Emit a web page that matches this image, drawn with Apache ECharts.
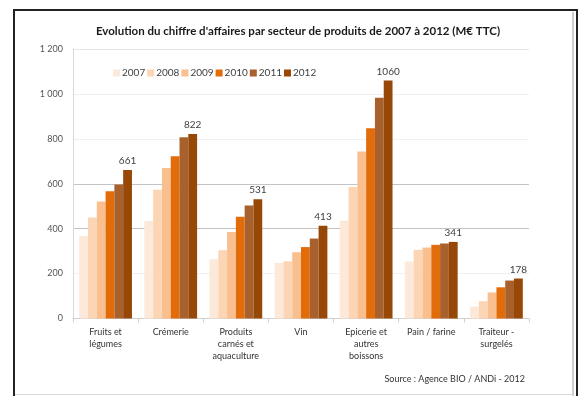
<!DOCTYPE html>
<html>
<head>
<meta charset="utf-8">
<script src="https://cdn.jsdelivr.net/npm/echarts@6/dist/echarts.min.js"></script>
<style>
  html, body { margin: 0; padding: 0; background: #fff; }
  #chart { width: 585px; height: 396px; }
</style>
</head>
<body>
<div id="chart"></div>
<script>
// Turnover by product sector, 2007-2012 (M€ TTC)
const categories = [
  'Fruits et\nlégumes',
  'Crémerie',
  'Produits\ncarnés et\naquaculture',
  'Vin',
  'Epicerie et\nautres\nboissons',
  'Pain / farine',
  'Traiteur -\nsurgelés'
];
const years = ['2007', '2008', '2009', '2010', '2011', '2012'];
const v2007 = [367, 434, 264, 248, 435, 254, 53];
const v2008 = [450, 573, 304, 255, 585, 306, 77];
const v2009 = [521, 670, 385, 295, 744, 316, 116];
const v2010 = [567, 722, 453, 318, 847, 328, 139];
const v2011 = [597, 807, 503, 356, 983, 334, 169];
const v2012 = [661, 822, 531, 413, 1060, 341, 178];
const yTicks = [0, 200, 400, 600, 800, 1000, 1200];

const seriesValues = [v2007, v2008, v2009, v2010, v2011, v2012];
const palette = ['#fde9d9', '#fcd5b4', '#fabf8f', '#e26b0a', '#a8602c', '#974706'];
const fontFamily = 'Lato, "Open Sans", sans-serif';

const chart = echarts.init(document.getElementById('chart'), null, { renderer: 'canvas' });

const series = years.map((y, i) => ({
  name: y,
  type: 'bar',
  data: seriesValues[i],
  barGap: '0%',
  barCategoryGap: '19%',
  itemStyle: { color: palette[i] },
  label: i === years.length - 1 ? {
    show: true,
    position: 'top',
    distance: 4,
    color: '#404040',
    fontSize: 10,
    fontFamily: fontFamily
  } : { show: false }
}));

chart.setOption({
  animation: false,
  backgroundColor: '#fff',
  textStyle: { fontFamily: fontFamily },
  title: {
    text: "Evolution du chiffre d'affaires par secteur de produits de 2007 à 2012 (M€ TTC)",
    left: 293,
    textAlign: 'center',
    top: 20,
    textStyle: { fontSize: 11.5, fontWeight: 'bold', color: '#1a1a1a', fontFamily: fontFamily }
  },
  legend: {
    data: years,
    left: 108,
    top: 63,
    itemWidth: 7,
    itemHeight: 7,
    itemGap: 2,
    icon: 'rect',
    textStyle: { fontSize: 10, color: '#404040', padding: [0, 0, 0, -3] }
  },
  grid: { left: 73, right: 56, top: 49, bottom: 77.5, containLabel: false },
  xAxis: {
    type: 'category',
    data: categories,
    axisLine: { lineStyle: { color: '#d0d0d0' } },
    axisTick: { show: true, length: 4, lineStyle: { color: '#d0d0d0' } },
    axisLabel: { fontSize: 9, color: '#333', lineHeight: 12, margin: 8, interval: 0 }
  },
  yAxis: {
    type: 'value',
    min: yTicks[0],
    max: yTicks[yTicks.length - 1],
    interval: 200,
    axisLine: { show: true, lineStyle: { color: '#d9d9d9' } },
    axisTick: { show: false },
    axisLabel: {
      fontSize: 9,
      color: '#555',
      margin: 10,
      formatter: v => String(v).replace(/\B(?=(\d{3})+(?!\d))/g, ' ')
    },
    splitLine: {
      lineStyle: {
        color: ['#d9d9d9', '#f0f0f0', '#c4c4c4', '#c4c4c4', '#f0f0f0', '#f0f0f0', '#e6e6e6'],
        width: 1
      }
    }
  },
  graphic: [
    {
      type: 'rect',
      shape: { x: 14, y: 10, width: 563, height: 400 },
      style: { fill: 'none', stroke: '#222', lineWidth: 2 },
      z: -1
    },
    {
      type: 'line',
      shape: { x1: 573, y1: 12, x2: 573, y2: 396 },
      style: { stroke: '#cfcfcf', lineWidth: 2 }
    },
    {
      type: 'line',
      shape: { x1: 15, y1: 394.5, x2: 573, y2: 394.5 },
      style: { stroke: '#d9d9d9', lineWidth: 1 }
    },
    {
      type: 'text',
      right: 60,
      top: 375,
      style: {
        text: 'Source : Agence BIO / ANDi - 2012',
        fontSize: 9,
        fill: '#333',
        fontFamily: fontFamily
      }
    }
  ],
  series: series
});
</script>
</body>
</html>
